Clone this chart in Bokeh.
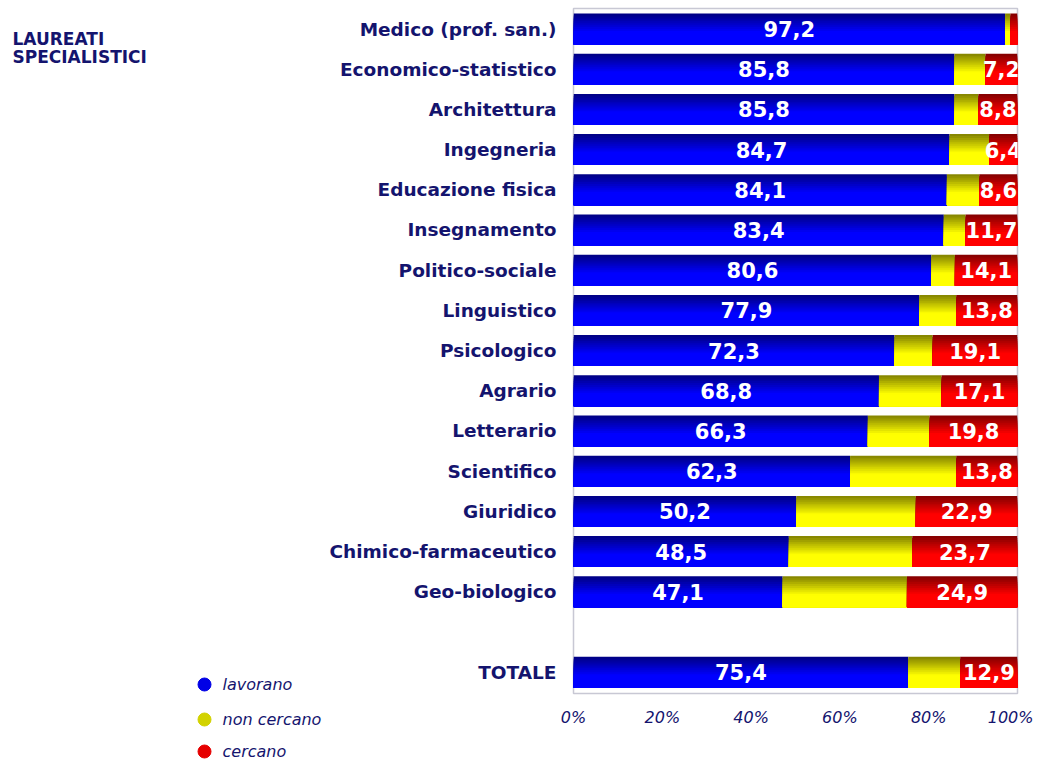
from bokeh.plotting import figure
from bokeh.models import Range1d, FixedTicker, ColumnDataSource
from bokeh.layouts import row
from bokeh.core.properties import value
from bokeh.embed import file_html
from bokeh.resources import INLINE

categorie = ["Medico (prof. san.)", "Economico-statistico", "Architettura", "Ingegneria",
             "Educazione fisica", "Insegnamento", "Politico-sociale", "Linguistico",
             "Psicologico", "Agrario", "Letterario", "Scientifico", "Giuridico",
             "Chimico-farmaceutico", "Geo-biologico", "TOTALE"]
lavorano = [97.2, 85.8, 85.8, 84.7, 84.1, 83.4, 80.6, 77.9, 72.3, 68.8, 66.3, 62.3, 50.2, 48.5, 47.1, 75.4]
non_cercano = [1.2, 7.0, 5.4, 8.9, 7.3, 4.9, 5.3, 8.3, 8.6, 14.1, 13.9, 23.9, 26.9, 27.8, 28.0, 11.7]
cercano = [1.6, 7.2, 8.8, 6.4, 8.6, 11.7, 14.1, 13.8, 19.1, 17.1, 19.8, 13.8, 22.9, 23.7, 24.9, 12.9]
serie = ["lavorano", "non cercano", "cercano"]
tick_values = [0, 20, 40, 60, 80, 100]
tick_labels = ["0%", "20%", "40%", "60%", "80%", "100%"]
titolo = ["LAUREATI", "SPECIALISTICI"]

NAVY = "#14146e"
colori = {"lavorano": ((0, 0, 128), (0, 0, 255)),
          "non cercano": ((128, 128, 0), (255, 255, 0)),
          "cercano": ((128, 0, 0), (255, 0, 0))}

pos = list(range(1, 16)) + [17]

HT = 760
WL = 325
WM = 1033 - WL

# ---------- left panel: title and legend ----------
left = figure(width=WL, height=HT, output_backend="svg", toolbar_location=None,
              x_range=Range1d(0, WL), y_range=Range1d(HT, 0),
              x_axis_type=None, y_axis_type=None,
              min_border_left=0, min_border_right=0, min_border_top=0, min_border_bottom=0)
left.frame_align = False
left.grid.visible = False
left.outline_line_color = None
left.background_fill_color = "white"
left.border_fill_color = "white"

left.text(x=[12, 12], y=[38, 56], text=titolo, text_color=NAVY,
          text_font=value("DejaVu Sans"), text_font_style="bold",
          text_font_size="17px", text_align="left", text_baseline="middle")

leg_cols = ["#0000e6", "#d2d200", "#e60000"]
leg_y = [684, 719, 751]
left.scatter(x=[204] * 3, y=leg_y, size=13, fill_color=leg_cols, line_color=leg_cols)
left.text(x=[222] * 3, y=leg_y, text=serie, text_color=NAVY,
          text_font=value("DejaVu Sans"), text_font_style="italic",
          text_font_size="16px", text_align="left", text_baseline="middle")

# ---------- main chart ----------
p = figure(width=WM, height=HT, output_backend="svg", toolbar_location=None,
           x_range=Range1d(0, 100), y_range=Range1d(17.53, 0.49),
           min_border_left=573 - WL, min_border_right=16, min_border_top=8, min_border_bottom=67)
p.frame_align = False
p.grid.visible = False
p.outline_line_color = "#c8c8d4"
p.outline_line_width = 1.5
p.background_fill_color = "white"
p.border_fill_color = "white"

H = 0.77
K = 16
lefts = {"lavorano": [0.0] * len(pos),
         "non cercano": list(lavorano),
         "cercano": [a + b for a, b in zip(lavorano, non_cercano)]}
widths = {"lavorano": lavorano, "non cercano": non_cercano, "cercano": cercano}

for s in serie:
    dark, bright = colori[s]
    L = lefts[s]
    R = [l + w for l, w in zip(L, widths[s])]
    for k in range(K):
        t = min(1.0, ((k + 0.5) / K) / 0.6)
        c = tuple(int(round(d + t * (b - d))) for d, b in zip(dark, bright))
        col = "#%02x%02x%02x" % c
        top = -H / 2 + k * H / K
        bot = H / 2
        p.hbar(y=[r + (top + bot) / 2 for r in pos], left=L, right=R, height=bot - top,
               fill_color=col, line_color=None)

fmt = lambda v: f"{v:.1f}".replace(".", ",")
src_blue = ColumnDataSource(dict(x=[v / 2 for v in lavorano], y=pos, t=[fmt(v) for v in lavorano]))
src_red = ColumnDataSource(dict(x=[100 - v / 2 for v in cercano], y=pos,
                                t=[fmt(v) if v >= 5 else "" for v in cercano]))
for src in (src_blue, src_red):
    p.text(x="x", y="y", text="t", source=src, text_color="white",
           text_font=value("DejaVu Sans"), text_font_style="bold",
           text_font_size="21px", text_align="center", text_baseline="middle")

p.xaxis.ticker = FixedTicker(ticks=tick_values)
p.xaxis.major_label_overrides = {v: l for v, l in zip(tick_values, tick_labels)}
p.xaxis.axis_line_color = None
p.xaxis.major_tick_line_color = None
p.xaxis.minor_tick_line_color = None
p.xaxis.major_tick_out = 0
p.xaxis.major_label_standoff = 14
p.xaxis.major_label_text_font = "DejaVu Sans"
p.xaxis.major_label_text_font_style = "italic"
p.xaxis.major_label_text_font_size = "16px"
p.xaxis.major_label_text_color = NAVY

p.yaxis.ticker = FixedTicker(ticks=pos)
p.yaxis.major_label_overrides = {r: c for r, c in zip(pos, categorie)}
p.yaxis.axis_line_color = None
p.yaxis.major_tick_line_color = None
p.yaxis.minor_tick_line_color = None
p.yaxis.major_tick_out = 0
p.yaxis.major_label_standoff = 17
p.yaxis.major_label_text_font = "DejaVu Sans"
p.yaxis.major_label_text_font_style = "bold"
p.yaxis.major_label_text_font_size = "18.5px"
p.yaxis.major_label_text_color = NAVY

layout = row(left, p, spacing=0)
open("out.html", "w").write(file_html(layout, INLINE))
